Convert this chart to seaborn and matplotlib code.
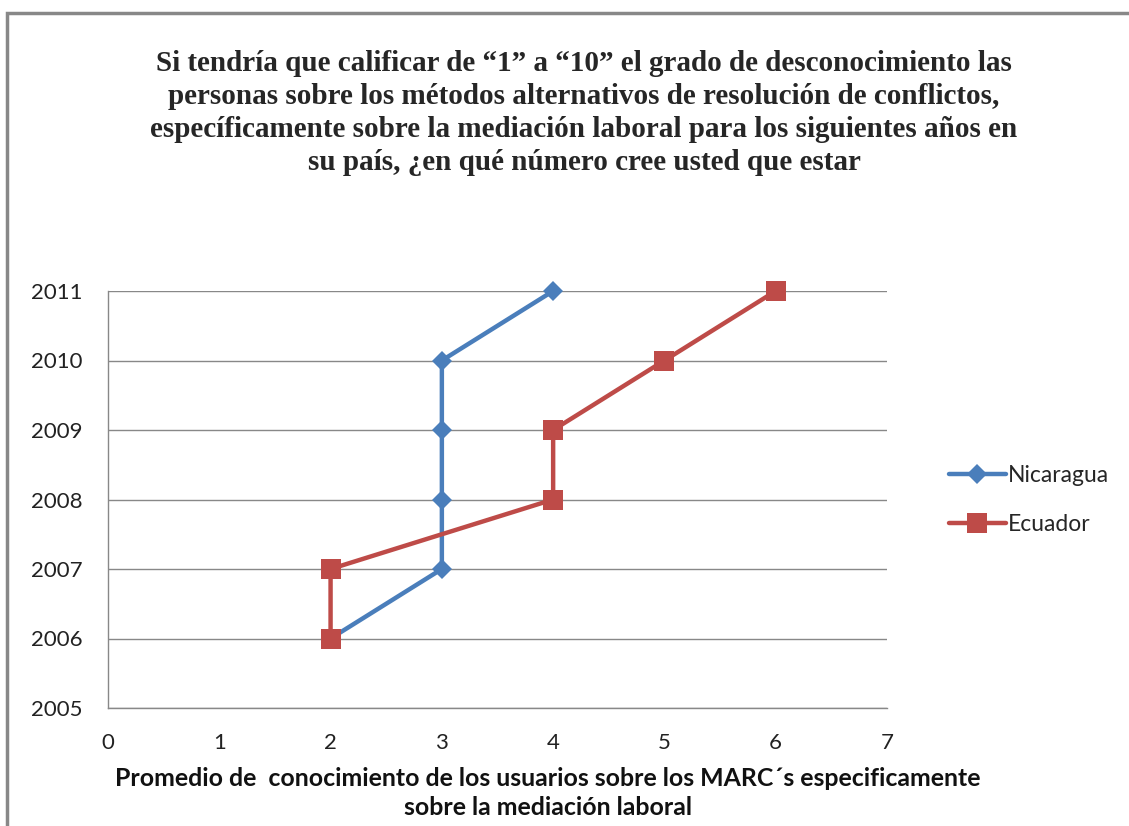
import matplotlib
matplotlib.use("Agg")
import matplotlib.pyplot as plt
import seaborn as sns
import pandas as pd
from matplotlib.patches import Rectangle

years = [2006, 2007, 2008, 2009, 2010, 2011]
nicaragua = [2, 3, 3, 3, 3, 4]
ecuador = [2, 2, 4, 4, 5, 6]
series_names = ["Nicaragua", "Ecuador"]
x_ticks = [0, 1, 2, 3, 4, 5, 6, 7]
y_ticks = [2005, 2006, 2007, 2008, 2009, 2010, 2011]

title = ("Si tendría que calificar de “1” a “10” el grado de desconocimiento las\n"
         "personas sobre los métodos alternativos de resolución de conflictos,\n"
         "específicamente sobre la mediación laboral para los siguientes años en\n"
         "su país, ¿en qué número cree usted que estar")
xlabel = ("Promedio de  conocimiento de los usuarios sobre los MARC´s especificamente\n"
          "sobre la mediación laboral")

sns.set_theme(style="white")
plt.rcParams['font.family'] = ['Lato', 'DejaVu Sans']

fig = plt.figure(figsize=(11.29, 8.26), dpi=100)
ax = fig.add_axes([108/1129, 1-708/826, (887-108)/1129, (708-291)/826])

df = pd.DataFrame({
    "x": nicaragua + ecuador,
    "y": years + years,
    "serie": [series_names[0]]*len(years) + [series_names[1]]*len(years),
})
colors = {"Nicaragua": "#4A7EBB", "Ecuador": "#BE4B48"}
markers = {"Nicaragua": "D", "Ecuador": "s"}
sizes = {"Nicaragua": 10.5, "Ecuador": 15}
for name in series_names:
    sub = df[df["serie"] == name]
    sns.lineplot(data=sub, x="x", y="y", sort=False, ax=ax, color=colors[name],
                 marker=markers[name], markersize=sizes[name], markeredgewidth=0,
                 linewidth=3.2, label=name, estimator=None)
for line in ax.lines:
    line.set_clip_on(False)

ax.set_xlim(0, 7)
ax.set_ylim(2005, 2011)
ax.set_xticks(x_ticks)
ax.set_yticks(y_ticks)
ax.set_xticklabels([str(v) for v in x_ticks])
ax.set_yticklabels([str(v) for v in y_ticks])
ax.tick_params(axis='both', labelsize=16, colors='#222222', length=0)
ax.tick_params(axis='x', pad=18)
ax.tick_params(axis='y', pad=18)
ax.yaxis.grid(True, color='#888888', linewidth=1)
ax.xaxis.grid(False)
for s in ["top", "right"]:
    ax.spines[s].set_visible(False)
for s in ["left", "bottom"]:
    ax.spines[s].set_color('#888888')
    ax.spines[s].set_linewidth(1)
ax.set_xlabel("")
ax.set_ylabel("")

leg = ax.legend(loc='center left', bbox_to_anchor=(928/1129, 1-500/826),
                bbox_transform=fig.transFigure, frameon=False, fontsize=16.5,
                handlelength=2.5, handletextpad=0.1, labelspacing=1.2)

fig.text(584/1129, 1-113/826, title, ha='center', va='center',
         fontsize=21, fontweight='bold', family=['Liberation Serif'], linespacing=1.27)
fig.text(548/1129, 1-793/826, xlabel, ha='center', va='center',
         fontsize=17.9, fontweight='bold', linespacing=1.33, color='#111111')

fig.patches.append(Rectangle((7/1129, -0.05), 1.2, 1-13/826+0.05, transform=fig.transFigure,
                             fill=False, edgecolor='#888888', linewidth=2.5))

fig.savefig("out.png", dpi=100)
